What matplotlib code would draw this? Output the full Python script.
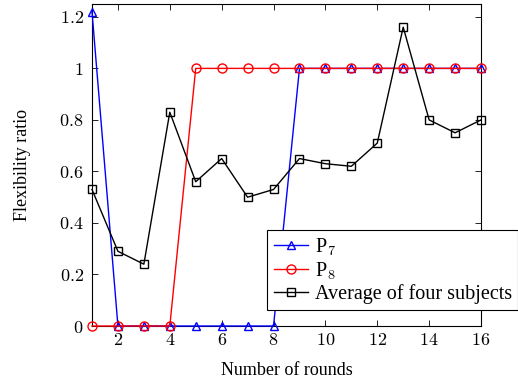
import numpy as np
import matplotlib
matplotlib.use('Agg')
import matplotlib.pyplot as plt

rounds = list(range(1, 17))
p7 = [1.22, 0, 0, 0, 0, 0, 0, 0, 1, 1, 1, 1, 1, 1, 1, 1]
p8 = [0, 0, 0, 0, 1, 1, 1, 1, 1, 1, 1, 1, 1, 1, 1, 1]
avg = [0.53, 0.29, 0.24, 0.83, 0.56, 0.65, 0.50, 0.53,
       0.65, 0.63, 0.62, 0.71, 1.16, 0.80, 0.75, 0.80]
xticks = [2, 4, 6, 8, 10, 12, 14, 16]
yticks = [0, 0.2, 0.4, 0.6, 0.8, 1, 1.2]

plt.rcParams['font.family'] = 'Liberation Serif'
plt.rcParams['mathtext.fontset'] = 'cm'

fig = plt.figure(figsize=(5.18, 3.83), dpi=100)
ax = fig.add_axes([0.1776, 0.1488, 0.7510, 0.8408])

ax.plot(rounds, p7, color='blue', marker='^', ms=6, mfc='none', mew=1.0, lw=1.0,
        label=r'P$_7$', clip_on=False, zorder=3)
ax.plot(rounds, p8, color='red', marker='o', ms=6.5, mfc='none', mew=1.0, lw=1.0,
        label=r'P$_8$', clip_on=False, zorder=3)
ax.plot(rounds, avg, color='black', marker='s', ms=6, mfc='none', mew=1.0, lw=1.0,
        label='Average of four subjects', clip_on=False, zorder=3)

ax.set_xlim(1, 16)
ax.set_ylim(0, 1.25)
ax.set_xticks(xticks)
ax.set_xticklabels(['$%d$' % t for t in xticks])
ax.set_yticks(yticks)
ax.set_yticklabels(['$%g$' % t for t in yticks])
ax.tick_params(direction='in', top=True, right=True, labelsize=13, length=4, width=0.6)
ax.tick_params(axis='y', pad=6)
ax.tick_params(axis='x', pad=4)
for s in ax.spines.values():
    s.set_linewidth(0.8)

ax.set_xlabel('Number of rounds', fontsize=13, labelpad=10)
ax.set_ylabel('Flexibility ratio', fontsize=13, labelpad=20)

leg = ax.legend(loc='lower right', bbox_to_anchor=(1.095, 0.05), fontsize=14.5,
                fancybox=False, framealpha=1, edgecolor='black', handlelength=1.7,
                borderpad=0.3, labelspacing=0.12, handletextpad=0.35, borderaxespad=0)
leg.get_frame().set_linewidth(0.8)
leg.set_zorder(5)

fig.savefig('out.png', dpi=100)
